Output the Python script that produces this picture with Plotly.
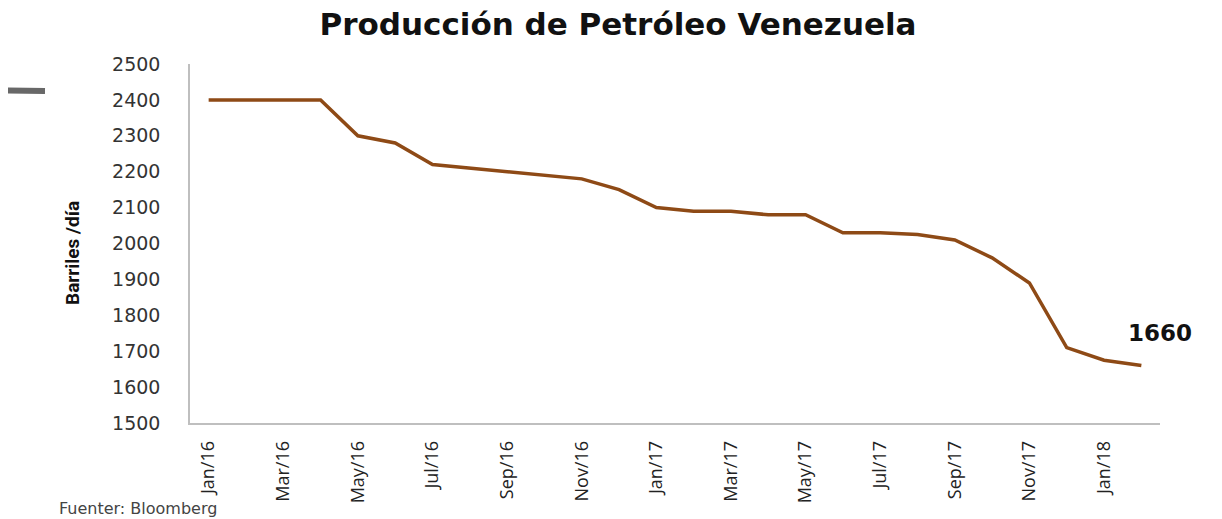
import plotly.graph_objects as go

months = ["Jan/16", "Feb/16", "Mar/16", "Apr/16", "May/16", "Jun/16", "Jul/16", "Aug/16",
          "Sep/16", "Oct/16", "Nov/16", "Dec/16", "Jan/17", "Feb/17", "Mar/17", "Apr/17",
          "May/17", "Jun/17", "Jul/17", "Aug/17", "Sep/17", "Oct/17", "Nov/17", "Dec/17",
          "Jan/18", "Feb/18"]
production = [2400, 2400, 2400, 2400, 2300, 2280, 2220, 2210, 2200, 2190, 2180, 2150,
              2100, 2090, 2090, 2080, 2080, 2030, 2030, 2025, 2010, 1960, 1890, 1710,
              1675, 1660]
tick_labels = months[::2]
y_ticks = list(range(1500, 2501, 100))

# page is offset by the default 8px body margin
OFF = 8
PAGE_W, PAGE_H = 1222, 519
W, H = PAGE_W - OFF, PAGE_H - OFF
# plot area in page pixels
PL, PR, PT, PB = 190, 1160, 64, 423
pw, ph = PR - PL, PB - PT


def px(xp):
    return (xp - PL) / pw


def py(yp):
    return (PB - yp) / ph


fig = go.Figure()
fig.add_trace(go.Scatter(
    x=months, y=production, mode="lines",
    line=dict(color="#8E4A16", width=3.5),
    hoverinfo="x+y", showlegend=False,
))

fig.update_layout(
    width=W, height=H,
    margin=dict(l=PL - OFF, r=W - (PR - OFF), t=PT - OFF, b=H - (PB - OFF), pad=0),
    paper_bgcolor="white", plot_bgcolor="white",
    title=dict(text="<b>Producción de Petróleo Venezuela</b>",
               font=dict(family="DejaVu Sans", size=31, color="#111111"),
               x=(618 - OFF) / W, xanchor="center", xref="container",
               y=1 - 5 / H, yanchor="top", yref="container", pad=dict(t=0)),
    xaxis=dict(type="category", categoryorder="array", categoryarray=months,
               range=[-0.5, len(months) - 0.5],
               tickmode="array", tickvals=tick_labels, ticktext=tick_labels,
               tickangle=-90, showgrid=False, zeroline=False,
               showline=True, linecolor="#BFBFBF", linewidth=1.5,
               ticks="", ticklabelstandoff=9,
               tickfont=dict(family="Open Sans", size=18, color="#222222")),
    yaxis=dict(range=[1500, 2500], tickmode="array", tickvals=y_ticks,
               showgrid=False, zeroline=False,
               showline=True, linecolor="#BFBFBF", linewidth=1.5,
               ticks="", ticklabelstandoff=24,
               tickfont=dict(family="DejaVu Sans", size=19, color="#333333")),
    annotations=[
        dict(text="<b>Barriles /día</b>", textangle=-90,
             xref="paper", yref="paper", x=px(72), y=py(253),
             xanchor="center", yanchor="middle", showarrow=False,
             font=dict(family="Roboto", size=19, color="#111111")),
        dict(text="<b>%d</b>" % production[-1], xref="x", yref="y",
             x=months[-1], y=production[-1], xshift=19, yshift=33,
             showarrow=False, xanchor="center", yanchor="middle",
             font=dict(family="DejaVu Sans", size=23, color="#111111")),
        dict(text="Fuenter: Bloomberg", xref="paper", yref="paper",
             x=px(57), y=py(508), xanchor="left", yanchor="middle",
             showarrow=False,
             font=dict(family="DejaVu Sans", size=16, color="#444444")),
    ],
    shapes=[
        dict(type="line", xref="paper", yref="paper",
             x0=px(6), y0=py(90.5), x1=px(45), y1=py(91),
             line=dict(color="#686868", width=6)),
        dict(type="rect", xref="paper", yref="paper",
             x0=px(0), y0=py(350), x1=px(6), y1=py(410),
             line=dict(width=0), fillcolor="#E3E3E3"),
    ],
)

fig.write_html("out.html")
